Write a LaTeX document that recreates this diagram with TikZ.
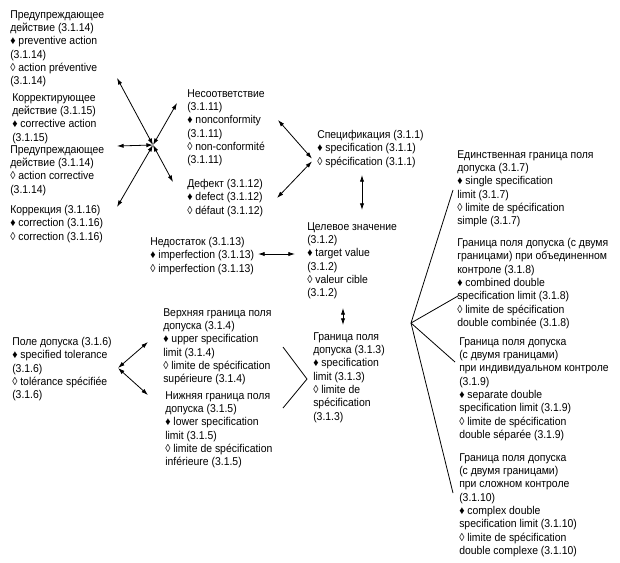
\documentclass[tikz,border=0pt]{standalone}
\usepackage{fontspec}
\setmainfont[FakeStretch=0.92]{Liberation Sans}
\usetikzlibrary{arrows.meta}

\begin{document}
\begin{tikzpicture}[x=0.75pt,y=-0.75pt,
    term/.style={anchor=north west,align=left,inner sep=0pt,
        font=\fontsize{8.5}{10}\selectfont},
    link/.style={<->,line width=0.6pt},
    tie/.style={line width=0.6pt},
    >={Latex[length=5pt,width=3.2pt]}]
    \useasboundingbox (0,0) rectangle (620,562);

    % left column
    \node[term] (prevact) at (10,10) {Предупреждающее\\действие (3.1.14)\\♦ preventive action\\(3.1.14)\\◊ action préventive\\(3.1.14)};
    \node[term] (coract) at (12,93) {Корректирующее\\действие (3.1.15)\\♦ corrective action\\(3.1.15)};
    \node[term] (prevact2) at (10,145) {Предупреждающее\\действие (3.1.14)\\◊ action corrective\\(3.1.14)};
    \node[term] (correction) at (10,205) {Коррекция (3.1.16)\\♦ correction (3.1.16)\\◊ correction (3.1.16)};

    % middle
    \node[term] (noncon) at (187,89) {Несоответствие\\(3.1.11)\\♦ nonconformity\\(3.1.11)\\◊ non-conformité\\(3.1.11)};
    \node[term] (defect) at (187,179) {Дефект (3.1.12)\\♦ defect (3.1.12)\\◊ défaut (3.1.12)};
    \node[term] (imperf) at (150,237) {Недостаток (3.1.13)\\♦ imperfection (3.1.13)\\◊ imperfection (3.1.13)};
    \node[term] (spec) at (317,130) {Спецификация (3.1.1)\\♦ specification (3.1.1)\\◊ spécification (3.1.1)};
    \node[term] (target) at (307,222) {Целевое значение\\(3.1.2)\\♦ target value\\(3.1.2)\\◊ valeur cible\\(3.1.2)};
    \node[term] (speclim) at (313,332) {Граница поля\\допуска (3.1.3)\\♦ specification\\limit (3.1.3)\\◊ limite de\\spécification\\(3.1.3)};
    \node[term] (upper) at (163,308) {Верхняя граница поля\\допуска (3.1.4)\\♦ upper specification\\limit (3.1.4)\\◊ limite de spécification\\supérieure (3.1.4)};
    \node[term] (lower) at (165,391) {Нижняя граница поля\\допуска (3.1.5)\\♦ lower specification\\limit (3.1.5)\\◊ limite de spécification\\inférieure (3.1.5)};
    \node[term] (tolerance) at (12,337) {Поле допуска (3.1.6)\\♦ specified tolerance\\(3.1.6)\\◊ tolérance spécifiée\\(3.1.6)};

    % right column
    \node[term] (single) at (457,150) {Единственная граница поля\\допуска (3.1.7)\\♦ single specification\\limit (3.1.7)\\◊ limite de spécification\\simple (3.1.7)};
    \node[term] (combined) at (457,238) {Граница поля допуска (с двумя\\границами) при объединенном\\контроле (3.1.8)\\♦ combined double\\specification limit (3.1.8)\\◊ limite de spécification\\double combinée (3.1.8)};
    \node[term] (separate) at (459,337) {Граница поля допуска\\(с двумя границами)\\при индивидуальном контроле\\(3.1.9)\\♦ separate double\\specification limit (3.1.9)\\◊ limite de spécification\\double séparée (3.1.9)};
    \node[term] (complex) at (459,453) {Граница поля допуска\\(с двумя границами)\\при сложном контроле\\(3.1.10)\\♦ complex double\\specification limit (3.1.10)\\◊ limite de spécification\\double complexe (3.1.10)};

    % star of arrows
    \coordinate (hub) at (153,145);
    \coordinate (hubprev) at (117,78);
    \coordinate (hubcor) at (117,146);
    \coordinate (hubcorr) at (117,207);
    \coordinate (hubnon) at (177,103);
    \coordinate (hubdef) at (173,182);
    \foreach \t in {hubprev,hubcor,hubcorr,hubnon,hubdef} {
        \draw [link] (hub) -- (\t);
    }

    % to specification
    \coordinate (nonend) at (278,120);
    \coordinate (defend) at (277,198);
    \coordinate (specin) at (312,160);
    \draw [link] (nonend) -- ([yshift=1pt]specin);
    \draw [link] ([yshift=-1pt]specin) -- (defend);
    \draw [link] (362,175) -- (362,210);
    \draw [link] (343,308) -- (343,325);
    \coordinate (imperfend) at (258,254);
    \draw [link] (imperfend) -- (295,254);

    % tolerance
    \coordinate (tolhub) at (118,368);
    \draw [link] (tolhub) -- (148,342);
    \draw [link] (tolhub) -- (148,395);

    % upper/lower to specification limit
    \coordinate (limtip) at (307,379);
    \draw [tie] (283,347) -- (limtip) -- (283,408);

    % fan to the kinds of limits
    \coordinate (fan) at (411,323);
    \foreach \e in {(453,190),(458,296),(455,362),(453,493)} {
        \draw [tie] (fan) -- \e;
    }
\end{tikzpicture}
\end{document}
